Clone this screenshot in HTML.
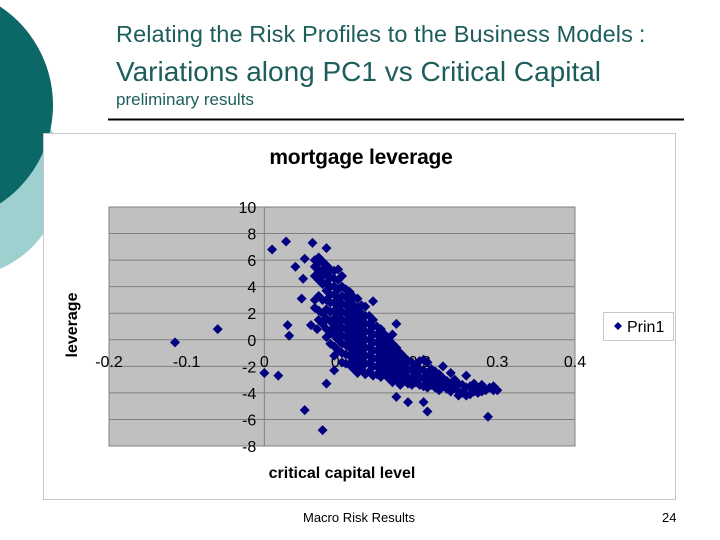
<!DOCTYPE html>
<html><head><meta charset="utf-8"><style>
body{margin:0;width:720px;height:540px;overflow:hidden;background:#fff;font-family:"Liberation Sans",sans-serif;position:relative}
.t{position:absolute;color:#1d5e5c;white-space:nowrap}
</style></head><body>
<svg width="720" height="540" style="position:absolute;left:0;top:0">
<circle cx="-40" cy="175" r="102" fill="#9fd0d0"/>
<circle cx="-65" cy="105" r="118" fill="#0b6866"/>
<line x1="108" y1="119.5" x2="684" y2="119.5" stroke="#000" stroke-width="2"/>
</svg>
<div class="t" style="left:116px;top:21px;font-size:23.5px;letter-spacing:0.1px">Relating the Risk Profiles to the Business Models<span style="margin-left:6px">:</span></div>
<div class="t" style="left:116px;top:56px;font-size:28px">Variations along PC1 vs Critical Capital</div>
<div class="t" style="left:116px;top:90px;font-size:17px">preliminary results</div>
<svg id="chart" width="720" height="540" style="position:absolute;left:0;top:0"></svg>
<div style="position:absolute;left:303px;top:510px;font-size:13px">Macro Risk Results</div>
<div style="position:absolute;left:662px;top:510px;font-size:13px">24</div>
<script>
const xTicks=[-0.2,-0.1,0,0.1,0.2,0.3,0.4];
const yTicks=[10,8,6,4,2,0,-2,-4,-6,-8];
const outlierX=[-0.115,-0.06,0.01,0.028,0.062,0.08,0.04,0.052,0.05,0.048,0.03,0.032,0.0,0.018,0.052,0.075,0.08,0.09,0.17,0.185,0.205,0.21,0.288,0.17,0.14,0.165,0.06,0.068];
const outlierY=[-0.2,0.8,6.8,7.4,7.3,6.9,5.5,6.1,4.6,3.1,1.1,0.3,-2.5,-2.7,-5.3,-6.8,-3.3,-2.3,-4.3,-4.7,-4.7,-5.4,-5.8,1.2,2.9,0.4,1.1,0.8];
const bandX=[0.065,0.07,0.075,0.08,0.085,0.09,0.095,0.1,0.105,0.11,0.115,0.12,0.125,0.13,0.135,0.14,0.145,0.15,0.155,0.16,0.165,0.17,0.175,0.18,0.185,0.19,0.195,0.2,0.205,0.21,0.215,0.22,0.225,0.23,0.235,0.24,0.245,0.25,0.255,0.26,0.265,0.27,0.275,0.28,0.285,0.29,0.295,0.3];
const bandY=[[6.0,5.5,4.8,3.0,2.4],[6.2,5.8,5.2,4.5,3.3,2.2,1.5],[5.9,5.3,4.8,4.2,3.0,2.0,1.2],[5.6,5.0,4.3,3.7,3.0,2.3,1.6,0.8,0.2],[5.3,4.7,4.0,3.4,2.8,2.1,1.4,0.6,-0.3],[5.2,4.6,4.0,3.4,2.8,2.2,1.6,1.0,0.3,-0.5,-1.2],[5.3,4.5,3.8,3.1,2.5,1.9,1.3,0.7,0.0,-0.8],[4.8,4.0,3.3,2.7,2.1,1.5,0.9,0.3,-0.3,-1.0,-1.7],[3.8,3.2,2.6,2.0,1.4,0.8,0.2,-0.4,-1.1,-1.8],[3.6,3.0,2.4,1.8,1.2,0.6,0.0,-0.6,-1.2,-1.9],[3.2,2.6,2.0,1.4,0.8,0.2,-0.4,-1.0,-1.6,-2.2],[3.1,2.4,1.8,1.2,0.6,0.0,-0.6,-1.2,-1.8,-2.5],[2.6,2.0,1.4,0.8,0.2,-0.4,-1.0,-1.6,-2.2],[2.5,1.8,1.2,0.6,0.0,-0.6,-1.2,-1.8,-2.6],[1.8,1.2,0.6,0.0,-0.6,-1.2,-1.8,-2.4],[1.5,1.0,0.4,-0.2,-0.8,-1.4,-2.0,-2.7],[1.0,0.4,-0.2,-0.8,-1.4,-2.0,-2.6],[0.8,0.2,-0.4,-1.0,-1.6,-2.2,-2.8],[0.4,-0.2,-0.8,-1.4,-2.0,-2.6],[0.1,-0.5,-1.1,-1.7,-2.3,-2.9],[-0.3,-0.9,-1.5,-2.1,-2.7,-3.2],[-0.6,-1.2,-1.8,-2.4,-3.0],[-1.0,-1.6,-2.2,-2.8,-3.4],[-1.3,-1.9,-2.5,-3.1],[-1.6,-2.2,-2.8,-3.3],[-1.7,-2.3,-2.9,-3.4],[-2.0,-2.6,-3.2],[-1.6,-2.2,-2.8,-3.4],[-1.5,-2.3,-2.9,-3.5],[-1.7,-2.5,-3.1,-3.6],[-2.2,-2.8,-3.4],[-2.4,-3.0,-3.6],[-2.6,-3.2,-3.8],[-2.0,-2.9,-3.5],[-3.1,-3.7],[-2.5,-3.3,-3.9],[-3.0,-3.6],[-3.3,-3.9,-4.2],[-3.4,-4.0],[-2.7,-3.6,-4.2],[-3.5,-4.1],[-3.3,-3.9],[-3.6,-4.0],[-3.4,-3.9],[-3.8],[-3.6],[-3.5,-3.8],[-3.8]];

const NS='http://www.w3.org/2000/svg';
const svg=document.getElementById('chart');
const PL=109,PR=575,PT=207,PB=446;
const xs=v=>PL+(v+0.2)/0.6*(PR-PL);
const ys=v=>PT+(10-v)/18*(PB-PT);
function mk(tag,at,parent){const e=document.createElementNS(NS,tag);for(const k in at)e.setAttribute(k,at[k]);(parent||svg).appendChild(e);return e;}

const frame=mk('rect',{x:43.5,y:133.5,width:632,height:366,fill:'#fff',stroke:'#c8c8c8'});


const title=mk('text',{x:361,y:164,'text-anchor':'middle','font-size':21,'font-weight':'bold',fill:'#000','letter-spacing':'-0.2'});
title.textContent='mortgage leverage';


const plot=mk('rect',{x:PL,y:PT,width:PR-PL,height:PB-PT,fill:'#c0c0c0',stroke:'#808080'});


yTicks.forEach(t=>{
  const g=mk('line',{x1:PL,x2:PR,y1:ys(t),y2:ys(t),stroke:'#808080','stroke-width':1});
  
  
  const l=mk('text',{x:xs(0)-8,y:ys(t)+6,'text-anchor':'end','font-size':16,fill:'#000'});
  l.textContent=String(t);
  
  
});
const ya=mk('line',{x1:xs(0),x2:xs(0),y1:PT,y2:PB,stroke:'#808080'});


xTicks.forEach(t=>{
  const l=mk('text',{x:xs(t),y:ys(0)+27,'text-anchor':'middle','font-size':16,fill:'#000'});
  l.textContent=String(t);
  
  
});
function dia(x,y){
  const cx=xs(x),cy=ys(y);
  const p=mk('polygon',{points:`${cx},${cy-5} ${cx+5},${cy} ${cx},${cy+5} ${cx-5},${cy}`,fill:'#000080'});
  
  
}
outlierX.forEach((x,i)=>dia(x,outlierY[i]));
bandX.forEach((x,i)=>bandY[i].forEach(y=>dia(x,y)));
const xt=mk('text',{x:342,y:478,'text-anchor':'middle','font-size':16,'font-weight':'bold',fill:'#000'});
xt.textContent='critical capital level';


const yt=mk('text',{x:0,y:0,'text-anchor':'middle','font-size':16,'font-weight':'bold',fill:'#000',transform:'translate(77,325) rotate(-90)'});
yt.textContent='leverage';


const lg=mk('rect',{x:603.5,y:312.5,width:70,height:28,fill:'#fff',stroke:'#c8c8c8'});


const lm=mk('polygon',{points:'618,322 622,326 618,330 614,326',fill:'#000080'});


const lt=mk('text',{x:627,y:332,'font-size':16,fill:'#000'});
lt.textContent='Prin1';


</script>
</body></html>
